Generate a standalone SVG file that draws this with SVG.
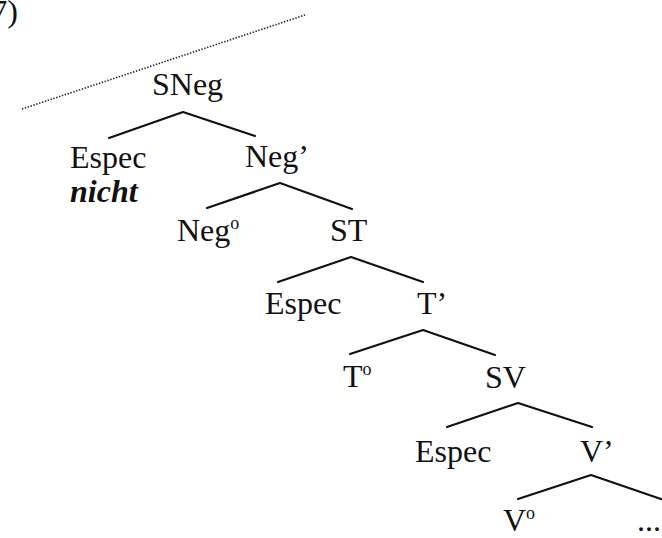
<svg xmlns="http://www.w3.org/2000/svg" width="662" height="538" viewBox="0 0 662 538">
<style>
.t{font-family:'Liberation Serif','DejaVu Serif',serif;font-size:32px;fill:#111}
.b{stroke:#111;stroke-width:2.2;fill:none;stroke-linecap:round;stroke-linejoin:round}
.dot{stroke:#222;stroke-width:1.6;stroke-dasharray:1.4 1.6;fill:none}
.it{font-style:italic;font-weight:bold}
.sup{font-size:18px}
</style>
<rect width="662" height="538" fill="#fff"/>
<g class="t">
<text x="18" y="22" text-anchor="end">(7)</text>
</g>
<line class="dot" x1="22" y1="109" x2="305" y2="15"/>
<g id="connectors">
<polyline class="b" points="109,138 183,112 255,136"/>
<polyline class="b" points="207,208 280,183 352,209"/>
<polyline class="b" points="278,282 351,257 423,282"/>
<polyline class="b" points="350,354 423,330 495,355"/>
<polyline class="b" points="447,427 518,403 592,427"/>
<polyline class="b" points="518,499 591,475 664,500"/>
</g>
<g class="t">
<g id="SNeg"><text x="152" y="95">SNeg</text></g>
<g id="Espec1"><text x="70" y="168">Espec</text><text class="it" x="70" y="202">nicht</text></g>
<g id="NegBar"><text x="245" y="167">Neg’</text></g>
<g id="Neg0"><text x="177" y="241">Neg<tspan class="sup" dy="-12">o</tspan></text></g>
<g id="ST"><text x="330" y="241">ST</text></g>
<g id="Espec2"><text x="265" y="314">Espec</text></g>
<g id="TBar"><text x="417" y="314">T’</text></g>
<g id="T0"><text x="343" y="387">T<tspan class="sup" dy="-12">o</tspan></text></g>
<g id="SV"><text x="485" y="388">SV</text></g>
<g id="Espec3"><text x="415" y="462">Espec</text></g>
<g id="VBar"><text x="580" y="462">V’</text></g>
<g id="V0"><text x="503" y="531">V<tspan class="sup" dy="-12">o</tspan></text></g>
<g id="dots"><text x="637" y="531">...</text></g>
</g>
</svg>
